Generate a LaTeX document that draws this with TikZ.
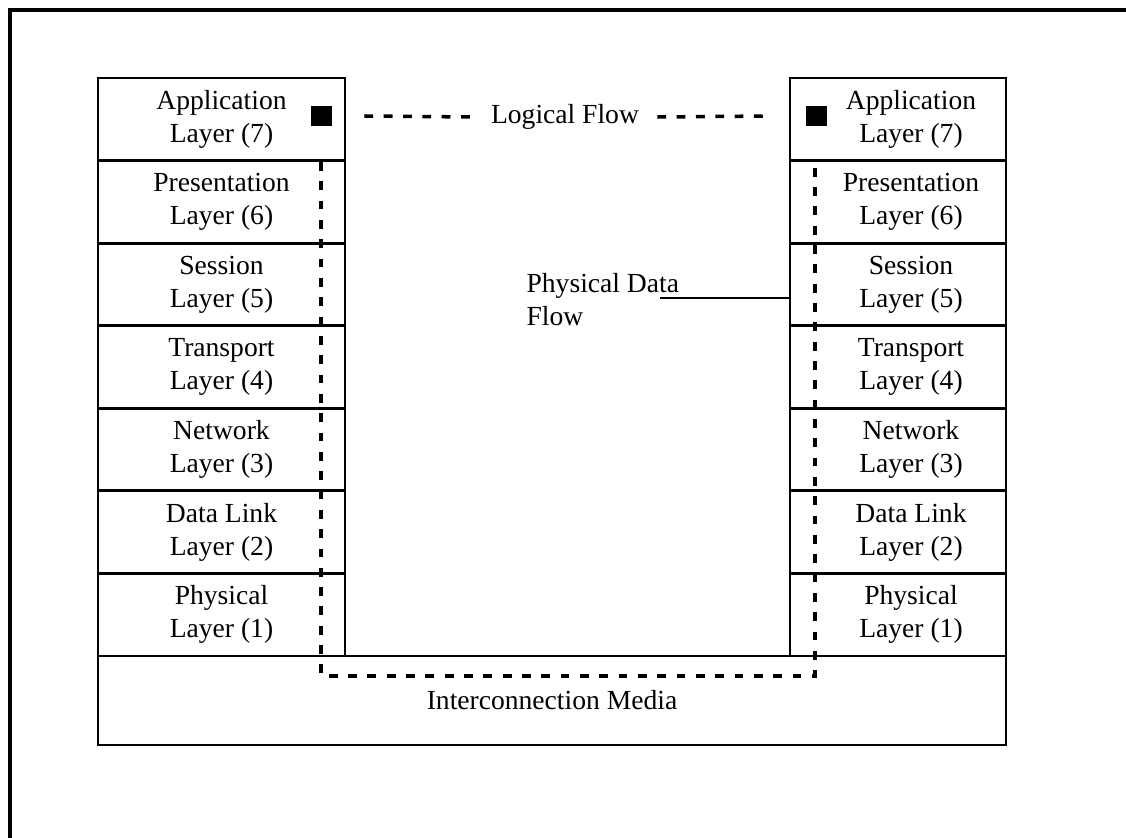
\documentclass[tikz,border=0pt]{standalone}
\usepackage{fontspec}
\setmainfont{Liberation Serif}
\begin{document}
\begin{tikzpicture}[x=0.02cm, y=-0.02cm, line width=1.6pt,
    layerbox/.style={draw, align=center, minimum height=1.6514cm, inner sep=0pt},
    flowline/.style={line width=2pt, dash pattern=on 5pt off 6pt},
    endbox/.style={fill=black, minimum size=0.42cm, inner sep=0pt}]
    \fontsize{15.7}{18.8}\selectfont
    \useasboundingbox (0,0) rectangle (1126,838);
    \draw[line width=2pt] (1126,10) -- (10,10) -- (10,838);

    % the two stacks
    \foreach \n/\t [count=\i from 0] in {7/Application, 6/Presentation,
        5/Session, 4/Transport, 3/Network, 2/Data Link, 1/Physical}{
        \node[layerbox, minimum width=4.94cm] (A\n)
            at (221.5, 119.285+82.57*\i) {\t\\Layer (\n)};
        \node[layerbox, minimum width=4.32cm,
            label={[align=center, xshift=0.26cm]center:\t\\Layer (\n)}] (B\n)
            at (898, 119.285+82.57*\i) {};
    }
    \node[draw, minimum width=18.16cm, minimum height=1.78cm] (media)
        at (552, 700.5) {Interconnection Media};

    \node[endbox] (sqA) at (321, 116) {};
    \node[endbox] (sqB) at (816, 116) {};
    \node[inner xsep=0.34cm] (logic) at (565, 117) {Logical Flow};
    \node[align=left, anchor=west] (pdf) at (516, 300) {Physical Data\\Flow};

    \draw[flowline] ([xshift=0.63cm]sqA.east) -- (logic.west);
    \draw[flowline] (logic.east) -- ([xshift=-0.7cm]sqB.west);

    \coordinate (dl) at (321, 676);
    \coordinate (dr) at (815, 676);
    \draw[flowline] (A7.south -| sqA) -- (dl) -- (dr) -- (B7.south -| dr);

    \coordinate (pdfend) at (660, 298);
    \draw (pdfend) -- (B5.west |- pdfend);
\end{tikzpicture}
\end{document}
